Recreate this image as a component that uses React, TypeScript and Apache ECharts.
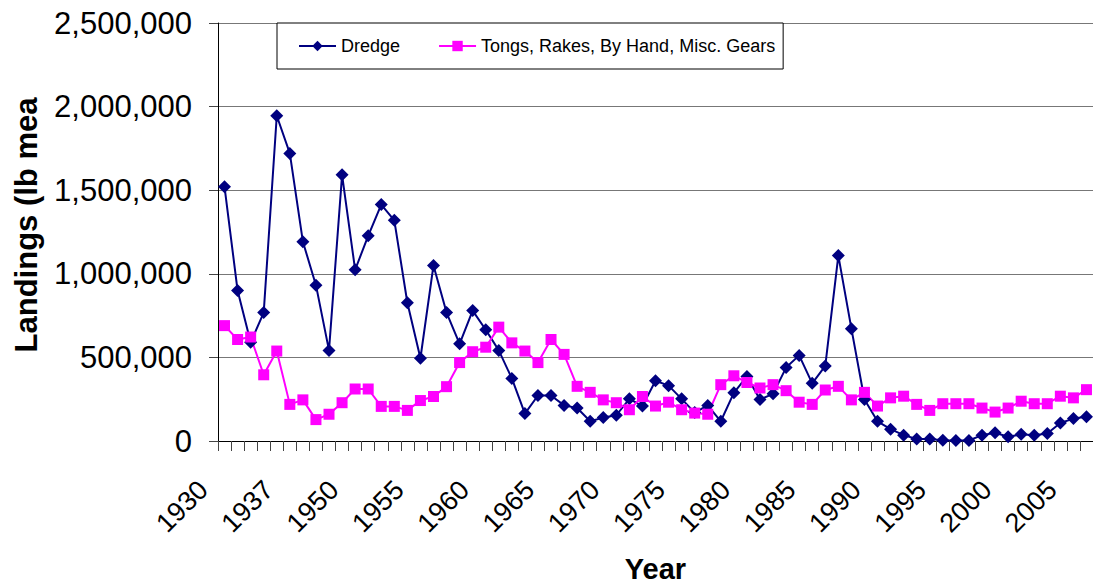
import React, { useEffect, useRef } from "react";
import * as echarts from "echarts";

const years: string[] = [
  "1930", "1931", "1932", "1934", "1936", "1937", "1938", "1944", "1945", "1948",
  "1950", "1951", "1952", "1953", "1954", "1955", "1956", "1957", "1958", "1959",
  "1960", "1961", "1962", "1963", "1964", "1965", "1966", "1967", "1968", "1969",
  "1970", "1971", "1972", "1973", "1974", "1975", "1976", "1977", "1978", "1979",
  "1980", "1981", "1982", "1983", "1984", "1985", "1986", "1987", "1988", "1989",
  "1990", "1991", "1992", "1993", "1994", "1995", "1996", "1997", "1998", "1999",
  "2000", "2001", "2002", "2003", "2004", "2005", "2006",
];

const dredge: number[] = [
  1520000, 900000, 590000, 768000, 1945000, 1720000, 1192000, 932000, 542000, 1592000,
  1024000, 1227000, 1414000, 1320000, 827000, 495000, 1050000, 768000, 581000, 780000,
  665000, 542000, 374000, 164000, 272000, 272000, 213000, 197000, 118000, 140000,
  154000, 252000, 209000, 360000, 331000, 252000, 170000, 213000, 118000, 288000,
  386000, 248000, 282000, 439000, 512000, 345000, 449000, 1109000, 672000, 248000,
  118000, 71000, 35000, 12000, 12000, 5000, 3000, 3000, 35000, 49000,
  25000, 40000, 35000, 45000, 108000, 134000, 145000,
];

const tongs: number[] = [
  690000, 607000, 622000, 396000, 538000, 219000, 246000, 128000, 160000, 229000,
  311000, 311000, 207000, 207000, 183000, 242000, 266000, 325000, 469000, 534000,
  561000, 681000, 587000, 538000, 469000, 607000, 518000, 327000, 291000, 246000,
  229000, 187000, 266000, 209000, 232000, 187000, 167000, 160000, 337000, 390000,
  350000, 317000, 337000, 301000, 232000, 219000, 305000, 327000, 246000, 291000,
  209000, 258000, 268000, 219000, 183000, 223000, 223000, 223000, 197000, 173000,
  197000, 238000, 223000, 223000, 268000, 258000, 307000,
];

const seriesNames: string[] = ["Dredge", "Tongs, Rakes, By Hand, Misc. Gears"];
const yTicks: number[] = [0, 500000, 1000000, 1500000, 2000000, 2500000];

const FONT = "'Liberation Sans', Arial, sans-serif";

export default function App() {
  const ref = useRef<HTMLDivElement>(null);
  useEffect(() => {
    if (!ref.current) return;
    const chart = echarts.init(ref.current, undefined, { renderer: "svg" });
    chart.setOption({
      animation: false,
      backgroundColor: "#ffffff",
      textStyle: { fontFamily: FONT },
      grid: { left: 218, top: 23, width: 884, height: 423, containLabel: false },
      legend: {
        left: 277,
        top: 23,
        itemWidth: 37,
        itemHeight: 13,
        itemGap: 38,
        padding: [14, 8, 14, 21],
        borderColor: "#000000",
        borderWidth: 1,
        backgroundColor: "#ffffff",
        textStyle: { fontSize: 18, color: "#000000", fontFamily: FONT },
        data: seriesNames,
      },
      graphic: [
        {
          type: "text",
          x: 26,
          y: 225,
          rotation: Math.PI / 2,
          style: {
            text: "Landings (lb mea",
            font: "bold 31px " + FONT,
            fill: "#000000",
            textAlign: "center",
            textVerticalAlign: "middle",
          },
        },
      ],
      xAxis: {
        type: "category",
        data: years,
        boundaryGap: true,
        name: "Year",
        nameLocation: "middle",
        nameGap: 113,
        nameTextStyle: { fontSize: 29, fontWeight: "bold", color: "#000000", fontFamily: FONT },
        axisLine: { show: true, lineStyle: { color: "#000000", width: 1 } },
        axisTick: { show: true, interval: 0, length: 10, lineStyle: { color: "#444444" } },
        axisLabel: {
          interval: 4,
          rotate: 45,
          fontSize: 27,
          color: "#000000",
          margin: 23,
          padding: [0, 30, 0, 0],
          fontFamily: FONT,
        },
        splitLine: { show: false },
      },
      yAxis: {
        type: "value",
        min: yTicks[0],
        max: yTicks[yTicks.length - 1],
        interval: 500000,
        axisLine: { show: true, lineStyle: { color: "#000000", width: 1 } },
        axisTick: { show: true, length: 9, lineStyle: { color: "#444444" } },
        axisLabel: {
          fontSize: 31,
          color: "#000000",
          margin: 26,
          fontFamily: FONT,
          formatter: (v: number) => v.toLocaleString("en-US"),
        },
        splitLine: { show: true, lineStyle: { color: "#777777", width: 1 } },
      },
      series: [
        {
          name: seriesNames[0],
          type: "line",
          data: dredge,
          symbol: "diamond",
          symbolSize: 13,
          showAllSymbol: true,
          lineStyle: { color: "#000080", width: 2 },
          itemStyle: { color: "#000080" },
        },
        {
          name: seriesNames[1],
          type: "line",
          data: tongs,
          symbol: "rect",
          symbolSize: 11,
          showAllSymbol: true,
          lineStyle: { color: "#FF00FF", width: 2 },
          itemStyle: { color: "#FF00FF" },
        },
      ],
    });
    return () => chart.dispose();
  }, []);
  return (
    <div
      ref={ref}
      style={{ position: "fixed", left: 0, top: 0, width: 1093, height: 588, background: "#fff", overflow: "hidden" }}
    />
  );
}
